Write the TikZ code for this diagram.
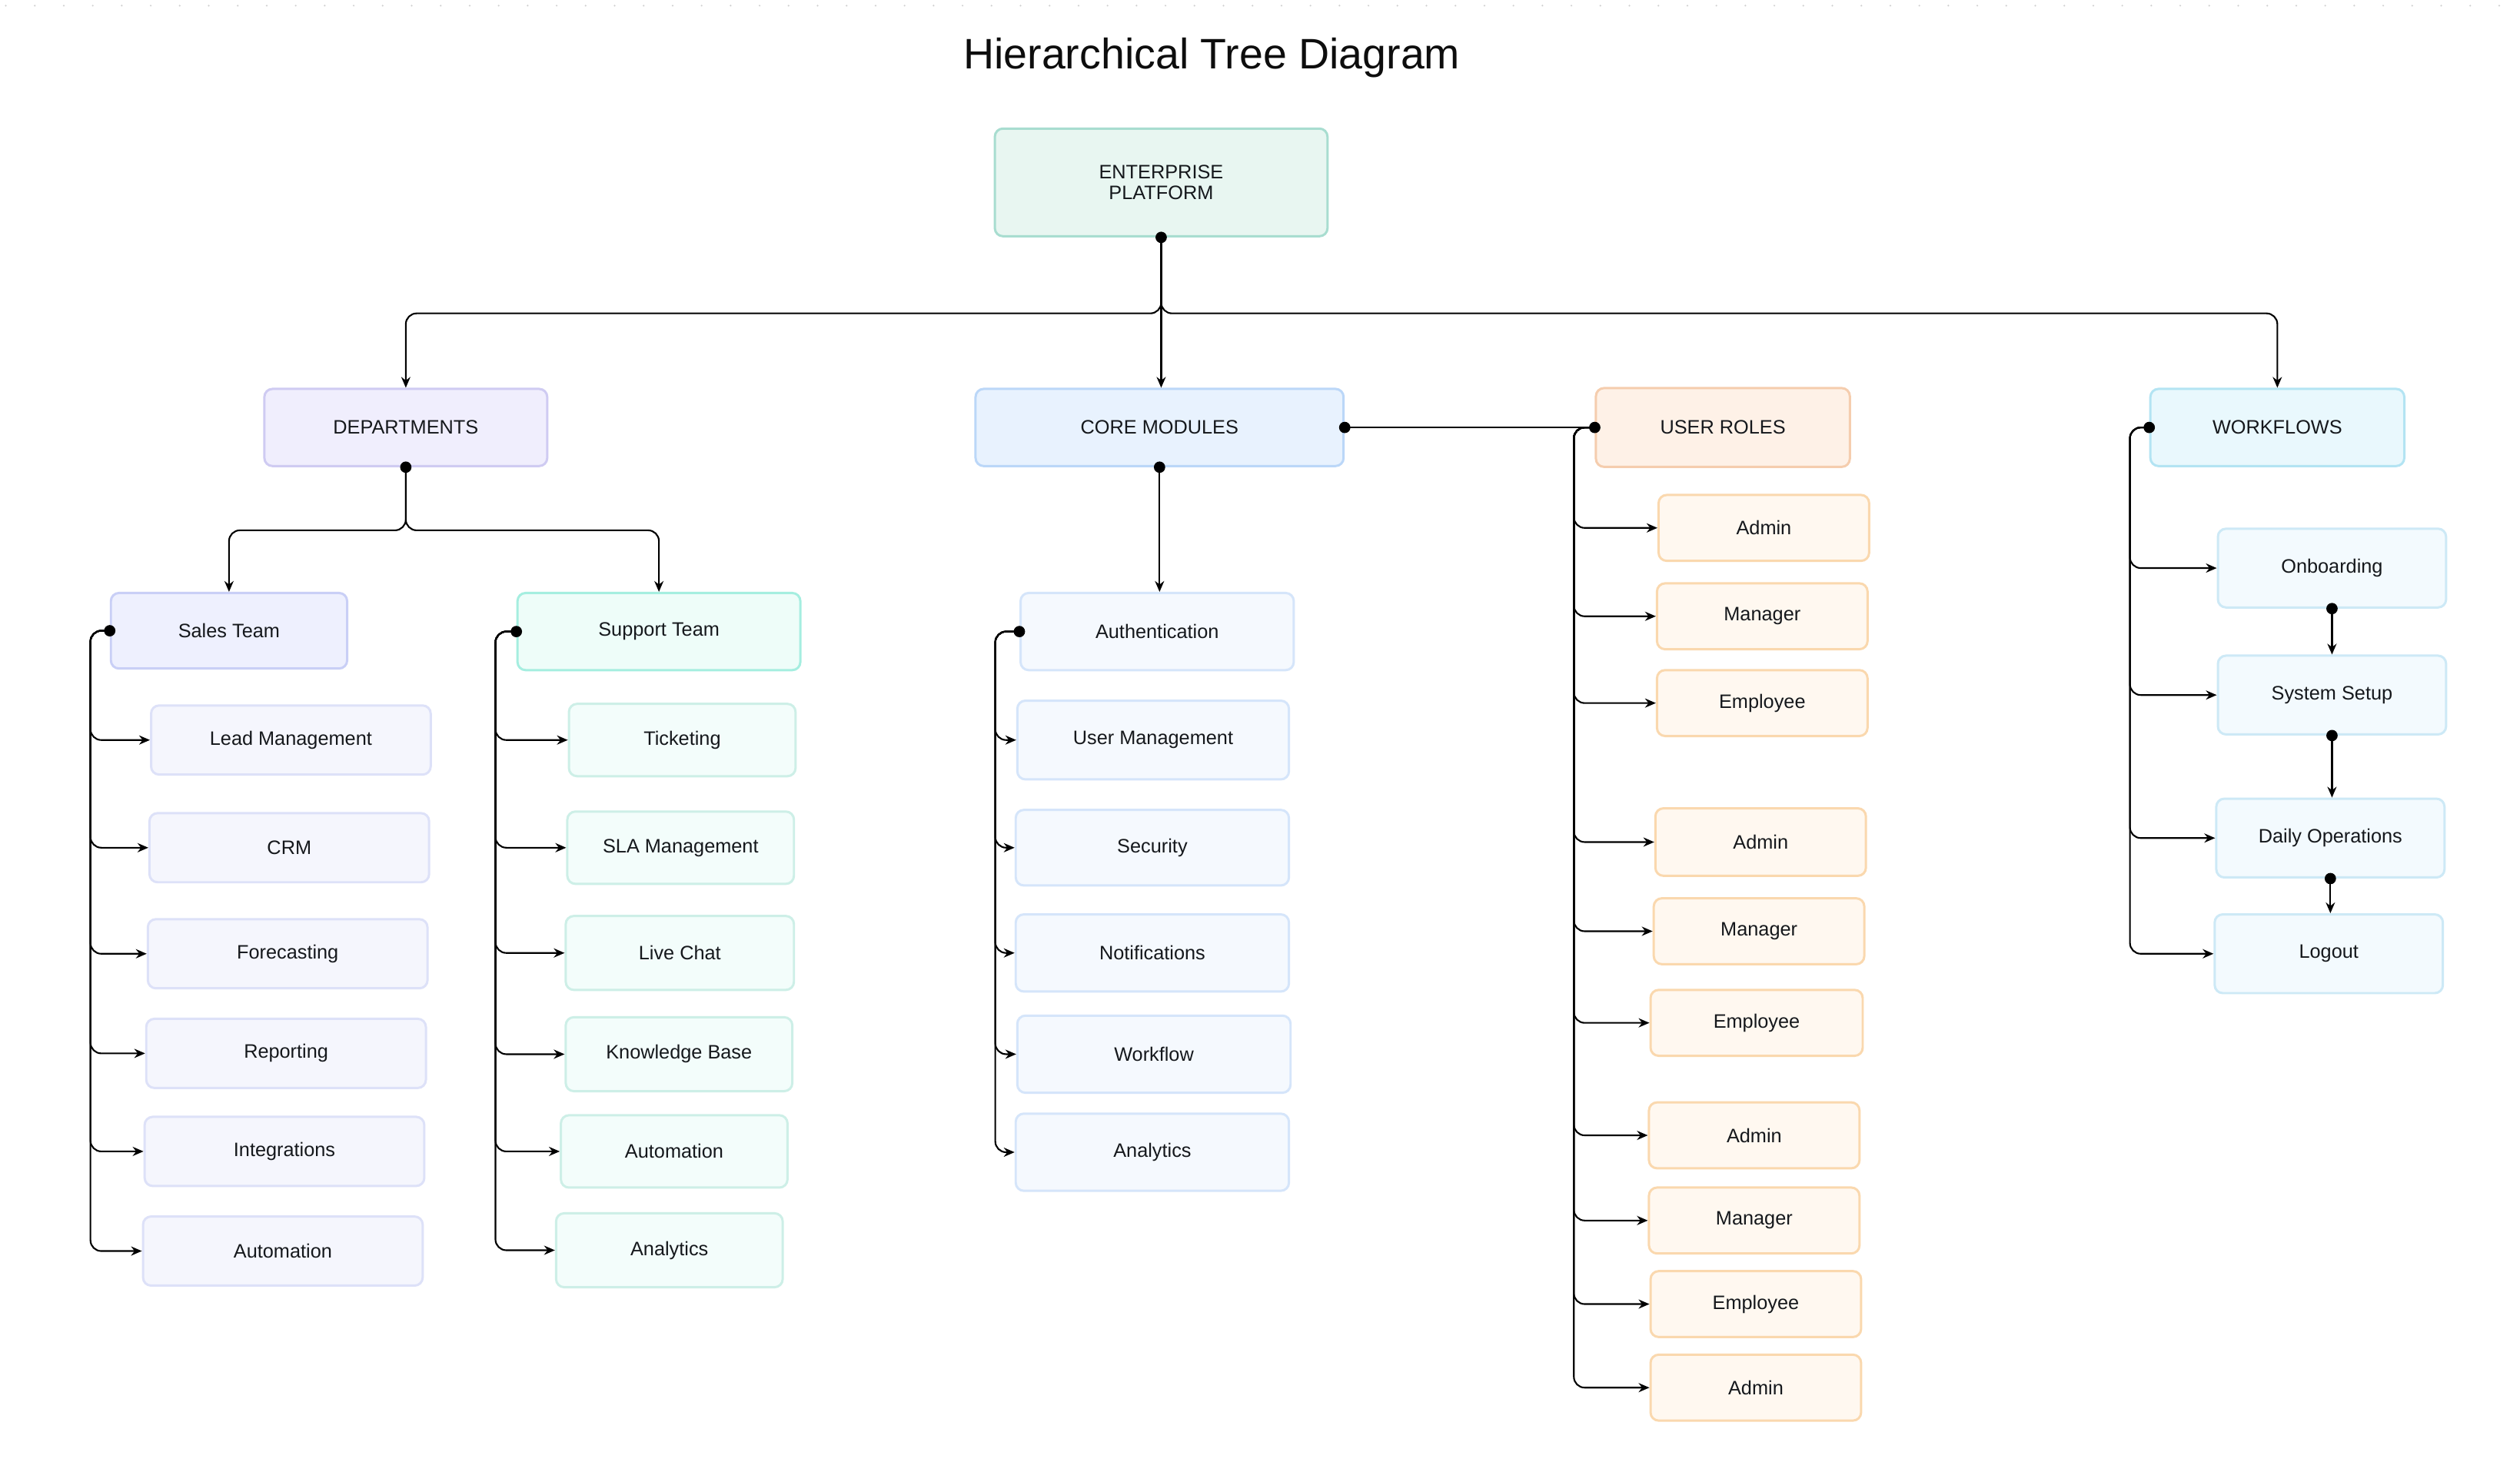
\documentclass[tikz,border=0pt]{standalone}
\usepackage{fontspec}
\setmainfont{Liberation Sans}
\usetikzlibrary{arrows.meta}
\def\pxu{0.020906cm}
\definecolor{txt}{HTML}{15181C}
\definecolor{rootF}{HTML}{E8F6F1}\definecolor{rootB}{HTML}{A8DDD0}
\definecolor{deptF}{HTML}{F0EEFD}\definecolor{deptB}{HTML}{CFCBF2}
\definecolor{coreF}{HTML}{E8F2FE}\definecolor{coreB}{HTML}{BBD7F8}
\definecolor{roleF}{HTML}{FEF1E7}\definecolor{roleB}{HTML}{F5CDAE}
\definecolor{wfF}{HTML}{E9F8FD}\definecolor{wfB}{HTML}{B3E4F3}
\definecolor{salesF}{HTML}{EEF0FE}\definecolor{salesB}{HTML}{C9CFF6}
\definecolor{suppF}{HTML}{EEFDF9}\definecolor{suppB}{HTML}{A5EEE0}
\definecolor{siF}{HTML}{F5F6FD}\definecolor{siB}{HTML}{DDE1F8}
\definecolor{tiF}{HTML}{F3FDFB}\definecolor{tiB}{HTML}{CDEFE7}
\definecolor{ciF}{HTML}{F5F9FE}\definecolor{ciB}{HTML}{D5E5FA}
\definecolor{riF}{HTML}{FFF8F0}\definecolor{riB}{HTML}{FAD8AE}
\definecolor{wiF}{HTML}{F3FAFE}\definecolor{wiB}{HTML}{CDE9F6}
\tikzset{
  bx/.style n args={4}{draw=#2, fill=#1, line width=0.85pt, rounded corners=3pt,
    minimum width=#3*\pxu, minimum height=#4*\pxu, inner sep=0pt,
    font=\fontsize{7.2}{7.6}\selectfont, text=txt, align=center},
  conn/.style={draw=black, line width=0.6pt, rounded corners=4pt,
    -{Stealth[length=4pt,width=3.4pt]}},
  plain/.style={draw=black, line width=0.6pt, rounded corners=4pt},
  dotc/.style={fill=black},
}
\begin{document}
\begin{tikzpicture}[x=0.020906cm,y=-0.020906cm]
\useasboundingbox[fill=white] (0,0) rectangle (1568,922);
% faint top dot row
\foreach \i in {0,...,86} \fill[black!18] (3.6+\i*18.04,3.5) circle (0.35pt);
% title
\node[font=\fontsize{15.8}{18}\selectfont, text=black!95] (title) at (754,36) {Hierarchical Tree Diagram};
% level 0/1
\node[bx={rootF}{rootB}{207}{67}] (root) at (722.5,113.5) {ENTERPRISE\\PLATFORM};
\node[bx={deptF}{deptB}{176}{48}] (dept) at (252.5,266) {DEPARTMENTS};
\node[bx={coreF}{coreB}{229}{48}] (core) at (721.5,266) {CORE MODULES};
\node[bx={roleF}{roleB}{158}{49}] (roles) at (1072,266) {USER ROLES};
\node[bx={wfF}{wfB}{158}{48}] (wf) at (1417,266) {WORKFLOWS};
% teams
\node[bx={salesF}{salesB}{147}{47}] (sales) at (142.5,392.5) {Sales Team};
\node[bx={suppF}{suppB}{176}{48}] (supp) at (410,393) {Support Team};
% sales items
\node[bx={siF}{siB}{174}{43}] (s1) at (181,460.5) {Lead Management};
\node[bx={siF}{siB}{174}{43}] (s2) at (180,527.5) {CRM};
\node[bx={siF}{siB}{174}{43}] (s3) at (179,593.5) {Forecasting};
\node[bx={siF}{siB}{174}{43}] (s4) at (178,655.5) {Reporting};
\node[bx={siF}{siB}{174}{43}] (s5) at (177,716.5) {Integrations};
\node[bx={siF}{siB}{174}{43}] (s6) at (176,778.5) {Automation};
% support items
\node[bx={tiF}{tiB}{141}{45}] (t1) at (424.5,460.5) {Ticketing};
\node[bx={tiF}{tiB}{141}{45}] (t2) at (423.5,527.5) {SLA Management};
\node[bx={tiF}{tiB}{142}{46}] (t3) at (423,593) {Live Chat};
\node[bx={tiF}{tiB}{141}{46}] (t4) at (422.5,656) {Knowledge Base};
\node[bx={tiF}{tiB}{141}{45}] (t5) at (419.5,716.5) {Automation};
\node[bx={tiF}{tiB}{141}{46}] (t6) at (416.5,778) {Analytics};
% core items
\node[bx={ciF}{ciB}{170}{48}] (auth) at (720,393) {Authentication};
\node[bx={ciF}{ciB}{169}{49}] (c1) at (717.5,460.5) {User Management};
\node[bx={ciF}{ciB}{170}{47}] (c2) at (717,527.5) {Security};
\node[bx={ciF}{ciB}{170}{48}] (c3) at (717,593) {Notifications};
\node[bx={ciF}{ciB}{170}{48}] (c4) at (718,656) {Workflow};
\node[bx={ciF}{ciB}{170}{48}] (c5) at (717,717) {Analytics};
% role items
\node[bx={riF}{riB}{131}{41}] (r1) at (1097.5,328.5) {Admin};
\node[bx={riF}{riB}{131}{41}] (r2) at (1096.5,383.5) {Manager};
\node[bx={riF}{riB}{131}{41}] (r3) at (1096.5,437.5) {Employee};
\node[bx={riF}{riB}{131}{42}] (r4) at (1095.5,524) {Admin};
\node[bx={riF}{riB}{131}{41}] (r5) at (1094.5,579.5) {Manager};
\node[bx={riF}{riB}{132}{41}] (r6) at (1093,636.5) {Employee};
\node[bx={riF}{riB}{131}{41}] (r7) at (1091.5,706.5) {Admin};
\node[bx={riF}{riB}{131}{41}] (r8) at (1091.5,759.5) {Manager};
\node[bx={riF}{riB}{131}{41}] (r9) at (1092.5,811.5) {Employee};
\node[bx={riF}{riB}{131}{41}] (r10) at (1092.5,863.5) {Admin};
% workflow items
\node[bx={wiF}{wiB}{142}{49}] (w1) at (1451,353.5) {Onboarding};
\node[bx={wiF}{wiB}{142}{49}] (w2) at (1451,432.5) {System Setup};
\node[bx={wiF}{wiB}{142}{49}] (w3) at (1450,521.5) {Daily Operations};
\node[bx={wiF}{wiB}{142}{49}] (w4) at (1449,593.5) {Logout};
% connectors: root
\coordinate (j0) at (722.5,195);
\draw[conn] (root.south) -- (j0) -| (dept.north);
\draw[conn] (root.south) -- (j0) -| (wf.north);
\draw[conn] (root.south) -- (core.north -| root.south);
% departments
\coordinate (j1) at (252.5,330);
\draw[conn] (dept.south) -- (j1) -| (sales.north);
\draw[conn] (dept.south) -- (j1) -| (supp.north);
% sales spine
\foreach \n in {s1,s2,s3,s4,s5,s6}
  \draw[conn] (sales.west) -- ++(-12,0) |- (\n.west);
% support spine
\foreach \n in {t1,t2,t3,t4,t5,t6}
  \draw[conn] (supp.west) -- ++(-13,0) |- (\n.west);
% core
\draw[conn] (core.south) -- (auth.north -| core.south);
\foreach \n in {c1,c2,c3,c4,c5}
  \draw[conn] (auth.west) -- ++(-15,0) |- (\n.west);
\draw[plain] (core.east) -- (roles.west);
% roles spine
\foreach \n in {r1,r2,r3,r4,r5,r6,r7,r8,r9,r10}
  \draw[conn] (roles.west) -- ++(-13,0) |- (\n.west);
% workflows spine
\foreach \n in {w1,w2,w3,w4}
  \draw[conn] (wf.west) -- ++(-12,0) |- (\n.west);
\draw[conn] (w1.south) -- (w2.north -| w1.south);
\draw[conn] (w2.south) -- (w3.north -| w2.south);
\draw[conn] (w3.south) -- (w4.north -| w3.south);
% dots
\foreach \p in {root.south,dept.south,core.south,core.east,roles.west,wf.west,
  sales.west,supp.west,auth.west,w1.south,w2.south,w3.south}
  \fill[dotc] (\p) circle (2.1pt);
\end{tikzpicture}
\end{document}
